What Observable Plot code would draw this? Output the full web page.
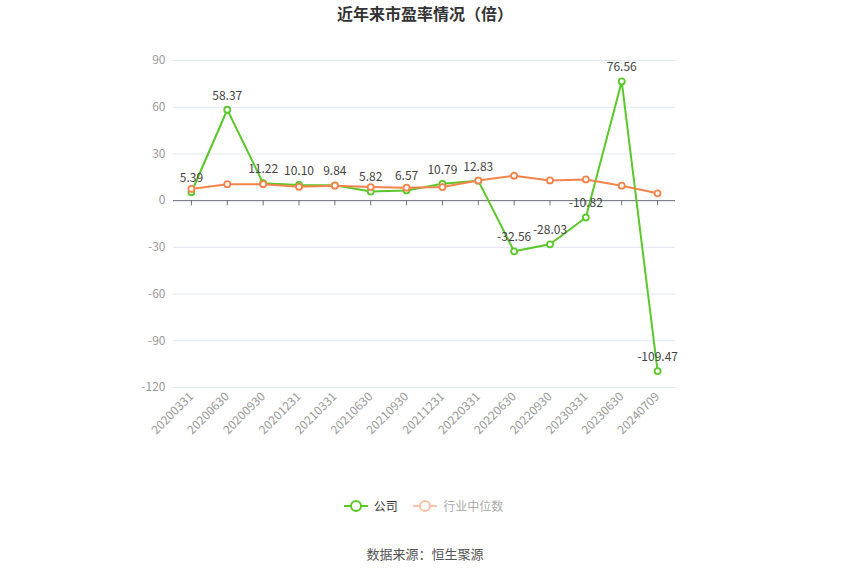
<!DOCTYPE html>
<html><head><meta charset="utf-8">
<script src="https://cdn.jsdelivr.net/npm/d3@7"></script>
<script src="https://cdn.jsdelivr.net/npm/@observablehq/plot@0.6"></script>
<style>
body{margin:0;width:850px;height:575px;background:#fff;font-family:"Noto Sans CJK SC","Noto Sans",sans-serif;overflow:hidden}
#title{height:28px;line-height:27px;text-align:center;font-size:16px;font-weight:bold;color:#333}
#legend{position:absolute;top:496px;left:0;width:850px;text-align:center;font-size:12px;height:20px;line-height:20px}
#legend span{display:inline-flex;align-items:center;margin:0 4px}
#src{position:absolute;top:544px;left:0;width:850px;text-align:center;font-size:13px;color:#555}
</style></head>
<body>
<div id="title">近年来市盈率情况（倍）</div>
<div id="chart"></div>
<div id="legend">
<span><svg width="26" height="14"><line x1="1" y1="7" x2="25" y2="7" stroke="#5ac82b" stroke-width="2"/><circle cx="13" cy="7" r="5" fill="#fff" stroke="#5ac82b" stroke-width="2"/></svg><span style="color:#333;margin-left:5px">公司</span></span>
<span><svg width="26" height="14"><line x1="1" y1="7" x2="25" y2="7" stroke="#fbc2a8" stroke-width="2"/><circle cx="13" cy="7" r="5" fill="#fff" stroke="#fbc2a8" stroke-width="2"/></svg><span style="color:#aaa;margin-left:5px">行业中位数</span></span>
</div>
<div id="src">数据来源：恒生聚源</div>
<script>
const dates = ["20200331","20200630","20200930","20201231","20210331","20210630","20210930","20211231","20220331","20220630","20220930","20230331","20230630","20240709"];
const company = [5.39,58.37,11.22,10.10,9.84,5.82,6.57,10.79,12.83,-32.56,-28.03,-10.82,76.56,-109.47];
const industry = [7.5,10.6,10.6,8.9,9.6,8.7,8.3,8.7,12.9,16.0,13.0,13.6,9.6,4.7];
const yTicks = [-120,-90,-60,-30,0,30,60,90];

const comp = dates.map((d,i)=>({d, v:company[i]}));
const ind = dates.map((d,i)=>({d, v:industry[i]}));
const green = "#5ac82b", orange = "#f5834c";

const chart = Plot.plot({
  width: 850, height: 440,
  marginLeft: 173, marginRight: 175, marginTop: 32, marginBottom: 81,
  style: {fontFamily: '"Noto Sans CJK SC","Noto Sans",sans-serif', fontSize: "12px", background: "#fff"},
  x: {type: "point", domain: dates, padding: 0.5, round: false, label: null},
  y: {domain: [-120, 90], ticks: yTicks, label: null},
  marks: [
    Plot.gridY(yTicks, {stroke: "#e0e6f1", strokeOpacity: 1, strokeWidth: 1}),
    Plot.axisY(yTicks, {tickSize: 0, tickPadding: 8, fill: "#999", label: null, tickFormat: d => String(d)}),
    Plot.axisX(dates, {tickSize: 0, tickPadding: 7, tickRotate: -45, fill: "#999", label: null}),
    Plot.ruleY([0], {stroke: "#6e7079", strokeWidth: 1}),
    Plot.ruleX(dates, {x: d => d, y1: 0, y2: -3.3, stroke: "#6e7079", strokeWidth: 1}),
    Plot.line(comp, {x: "d", y: "v", stroke: green, strokeWidth: 2}),
    Plot.dot(comp, {x: "d", y: "v", r: 3, fill: "#fff", stroke: green, strokeWidth: 1.8}),
    Plot.line(ind, {x: "d", y: "v", stroke: orange, strokeWidth: 2}),
    Plot.dot(ind, {x: "d", y: "v", r: 3, fill: "#fff", stroke: orange, strokeWidth: 1.8}),
    Plot.text(comp, {x: "d", y: "v", text: d => d.v.toFixed(2), dy: -14, fill: "#444", fontSize: 12})
  ]
});
document.getElementById("chart").appendChild(chart);
</script>
</body></html>
